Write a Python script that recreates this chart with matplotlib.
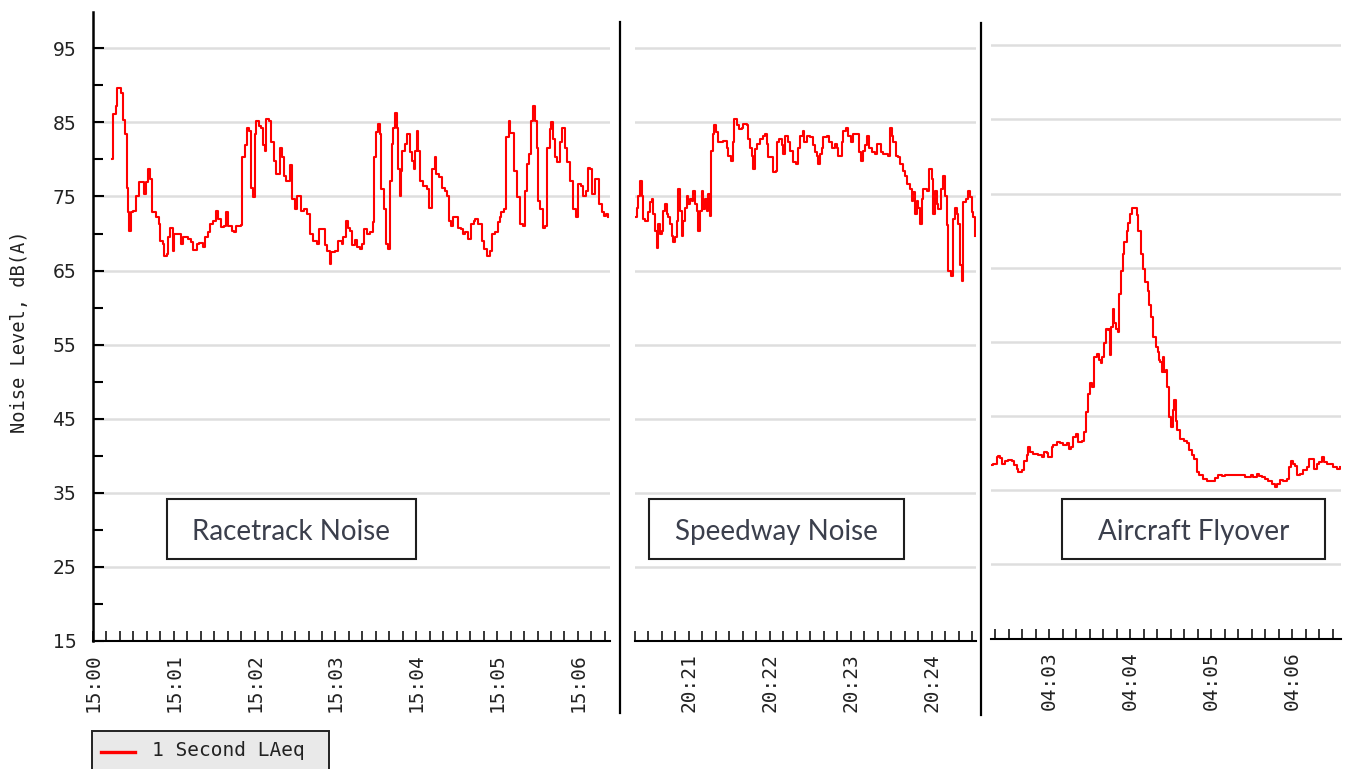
import matplotlib
matplotlib.use('Agg')
import matplotlib.pyplot as plt
from matplotlib.patches import Rectangle
from matplotlib.lines import Line2D
from matplotlib.ticker import MultipleLocator

W, H = 1350, 769

# Racetrack: seconds after 15:00:00, 1 second LAeq in dB(A)
race_sec = [14, 15, 17, 18, 20.5, 22, 23.5, 25, 26, 27,
            28.5, 30, 32, 34.5, 38, 39.5, 41, 42, 44, 47,
            49, 50, 52, 53, 55, 56, 57.5, 59.5, 60.5, 63,
            65, 67, 70.5, 72.5, 74, 77, 79, 82, 83, 85.5,
            87, 89, 91.5, 93, 95, 97.5, 99, 100, 103, 105,
            106.5, 109, 110, 110.5, 112.5, 114, 116, 117, 118.5, 120,
            121, 123, 125, 126.5, 128, 128.7, 131, 132.5, 134, 135.5,
            137.5, 138.5, 140.5, 142, 143.5, 146, 148, 150, 151.5, 153.5,
            154.5, 157, 158.5, 161, 163.5, 166, 168, 171, 172, 173.5,
            176, 177, 179.5, 182, 184.5, 185.5, 187.5, 189.5, 191, 192,
            194.5, 196, 198, 199.5, 201, 203.5, 205.5, 207.5, 208.5, 210,
            211.5, 213, 214, 216, 217.5, 219.3, 220.5, 221.7, 223, 224,
            225.5, 226.5, 228, 229, 229.5, 231.5, 233, 235, 236.5, 238,
            239, 240.3, 241.5, 242.8, 245, 247.7, 249.5, 251.5, 254, 255,
            257, 259, 261, 262.5, 264, 265.5, 267.5, 270, 271, 273.5,
            275, 276, 278.5, 280.5, 282.5, 283.5, 285.5, 287.5, 288.5, 290,
            292.5, 295, 296.5, 298.5, 301, 302, 303, 305, 306.5, 308.5,
            309.5, 311.5, 312.5, 314.5, 317, 319, 320.5, 322, 324, 325.5,
            327, 328, 329.5, 330.5, 332, 334, 335.5, 337, 339, 340,
            341.5, 343, 344.5, 346.5, 348.5, 350.5, 352, 354, 356, 358.5,
            360, 362.5, 364, 366, 367.5, 369, 370.5, 372.5, 374.5, 376,
            377.5, 379.5, 381, 382.5]
race_db = [80.1, 86.1, 87.2, 89.7, 89.0, 85.3, 83.4, 76.2, 72.9, 70.4,
           72.9, 73.1, 75.1, 76.9, 75.3, 77.0, 78.7, 77.4, 72.9, 72.2,
           71.3, 69.0, 68.6, 67.0, 67.2, 69.5, 70.8, 67.7, 69.9, 69.9,
           68.6, 69.5, 69.3, 68.8, 67.8, 68.6, 68.7, 68.2, 69.5, 70.2,
           71.3, 71.7, 73.1, 72.0, 70.9, 71.0, 72.9, 71.0, 70.4, 70.2,
           71.0, 71.0, 71.2, 80.3, 81.9, 84.3, 83.9, 76.2, 74.9, 83.4,
           85.2, 84.5, 84.3, 81.9, 81.2, 85.4, 85.2, 82.3, 79.8, 78.0,
           78.0, 81.6, 80.3, 77.8, 77.1, 79.2, 74.7, 73.3, 75.1, 75.1,
           73.1, 73.3, 72.6, 69.9, 69.0, 68.6, 70.6, 70.6, 68.4, 67.7,
           65.9, 67.5, 67.7, 69.0, 68.6, 69.5, 71.7, 70.8, 70.4, 68.4,
           69.1, 68.2, 67.9, 68.6, 70.6, 69.9, 70.2, 71.5, 80.3, 83.7,
           84.8, 83.4, 76.0, 73.3, 68.6, 67.9, 77.1, 82.1, 84.3, 86.3,
           84.3, 78.7, 75.1, 78.5, 81.2, 82.1, 83.4, 81.0, 79.8, 78.7,
           81.2, 83.9, 81.2, 77.1, 76.4, 76.0, 73.5, 78.7, 80.3, 78.0,
           77.6, 76.2, 75.8, 75.1, 71.7, 71.0, 72.2, 72.2, 70.8, 70.6,
           69.9, 70.2, 69.3, 71.3, 71.7, 72.0, 71.3, 71.3, 69.0, 67.9,
           67.0, 67.6, 69.9, 70.2, 71.5, 72.2, 72.9, 73.3, 83.0, 85.2,
           83.6, 83.6, 78.5, 74.9, 71.3, 71.0, 75.8, 79.4, 80.7, 85.2,
           87.2, 85.2, 81.6, 74.4, 73.3, 70.8, 71.0, 81.6, 84.1, 85.0,
           82.8, 80.3, 79.6, 82.3, 84.3, 81.6, 79.6, 77.1, 73.3, 72.2,
           76.7, 76.4, 75.1, 75.8, 78.9, 78.7, 75.3, 77.4, 77.4, 74.0,
           72.9, 72.4, 72.6, 72.2]
race_ticks = [0, 60, 120, 180, 240, 300, 360]
race_labels = ['15:00', '15:01', '15:02', '15:03', '15:04', '15:05', '15:06']

# Speedway: seconds after 20:20:00
speed_sec = [20.0, 21.2, 22.5, 23.7, 24.9, 26.2, 27.4, 29.9, 31.1, 32.3,
             33.6, 34.8, 36.0, 37.3, 38.5, 39.8, 41.0, 42.2, 43.5, 44.7,
             45.9, 47.2, 48.4, 49.6, 50.9, 52.1, 53.3, 54.6, 55.8, 57.0,
             58.3, 59.5, 60.7, 62.0, 63.2, 64.4, 65.7, 66.9, 68.1, 69.4,
             70.6, 71.8, 73.1, 74.3, 75.6, 76.0, 77.5, 78.5, 80.0, 81.2,
             83.0, 85.4, 87.9, 89.1, 90.9, 92.8, 93.6, 95.3, 97.3, 99.0,
             100.2, 102.7, 103.9, 105.2, 106.4, 107.2, 108.9, 110.1, 112.6, 114.6,
             116.3, 117.5, 118.8, 121.2, 122.0, 124.4, 124.9, 126.9, 128.6, 129.9,
             131.1, 133.6, 134.8, 136.8, 139.3, 141.0, 142.2, 144.2, 145.2, 147.2,
             149.6, 151.6, 153.3, 154.6, 155.8, 157.0, 158.3, 159.5, 162.0, 163.9,
             165.7, 168.1, 169.4, 170.6, 173.1, 174.3, 176.3, 178.0, 179.7, 181.7,
             184.2, 186.2, 187.4, 189.1, 190.4, 192.1, 193.6, 195.3, 197.8, 199.5,
             201.0, 202.0, 203.9, 207.6, 208.9, 210.1, 211.3, 213.1, 215.1, 216.3,
             218.3, 220.0, 221.2, 223.7, 224.9, 226.2, 227.4, 228.6, 229.9, 231.1,
             232.3, 233.6, 236.0, 237.8, 239.7, 241.0, 242.2, 243.5, 244.7, 246.4,
             248.4, 249.6, 250.9, 252.1, 253.8, 255.3, 257.0, 258.3, 259.5, 260.7,
             262.0, 263.2, 265.2, 266.4, 268.1, 269.4, 270.6, 271.8]
speed_db = [72.2, 73.5, 75.1, 77.1, 75.1, 72.0, 71.7, 72.9, 74.2, 74.7,
            72.6, 70.4, 68.1, 71.3, 69.9, 70.4, 73.1, 74.0, 72.6, 72.2,
            71.3, 69.7, 68.8, 69.5, 71.7, 76.0, 73.1, 69.7, 71.7, 73.5,
            75.1, 74.0, 74.7, 74.4, 75.8, 74.0, 73.1, 70.4, 73.1, 75.8,
            73.3, 74.7, 73.1, 75.3, 72.4, 81.2, 83.4, 84.6, 83.7, 82.3,
            82.3, 82.5, 81.6, 80.5, 79.8, 82.3, 85.4, 84.6, 84.1, 84.3,
            84.8, 84.6, 82.8, 81.6, 80.5, 78.7, 81.4, 82.1, 82.8, 83.2,
            83.4, 82.1, 80.3, 80.3, 78.3, 78.5, 82.3, 82.8, 81.9, 80.7,
            83.2, 82.3, 81.2, 79.6, 79.4, 81.6, 83.2, 83.9, 82.3, 83.2,
            83.0, 81.9, 81.0, 80.5, 79.4, 80.7, 81.6, 83.0, 83.2, 82.3,
            81.6, 82.1, 81.6, 80.5, 82.3, 83.9, 84.3, 83.2, 82.3, 83.4,
            83.4, 81.0, 79.8, 81.2, 81.9, 83.2, 81.6, 81.0, 80.7, 82.1,
            82.1, 81.0, 80.7, 80.5, 84.3, 83.2, 82.3, 80.5, 80.3, 79.4,
            78.5, 77.8, 76.7, 76.0, 74.4, 75.6, 72.6, 74.4, 73.5, 71.3,
            74.7, 76.0, 75.8, 78.7, 77.4, 72.6, 75.8, 74.0, 73.3, 76.0,
            77.8, 75.1, 71.1, 65.0, 64.3, 72.0, 73.5, 72.6, 71.3, 65.7,
            63.6, 74.2, 74.7, 75.8, 74.9, 72.9, 72.2, 69.7]
speed_ticks = [60, 120, 180, 240]
speed_labels = ['20:21', '20:22', '20:23', '20:24']

# Aircraft flyover: seconds after 04:02:00
air_sec = [16.8, 18.5, 21.0, 22.2, 23.5, 25.2, 27.2, 29.7, 32.1, 34.1,
           35.8, 37.1, 39.5, 41.5, 43.2, 44.5, 45.7, 48.2, 51.9, 54.3,
           56.3, 58.0, 59.3, 61.7, 63.0, 65.5, 67.9, 70.4, 72.9, 74.6,
           76.1, 77.8, 79.5, 81.5, 84.0, 85.5, 87.2, 88.9, 90.1, 91.9,
           93.4, 95.1, 96.8, 98.3, 99.3, 100.8, 101.7, 103.2, 104.5, 105.2,
           105.7, 106.9, 108.2, 109.4, 110.6, 111.6, 113.1, 114.3, 115.6, 117.3,
           118.5, 119.8, 121.0, 123.5, 124.7, 125.9, 127.9, 129.6, 130.9, 132.9,
           134.1, 135.3, 137.0, 138.8, 140.3, 141.3,
           142.0, 143.2, 144.5, 145.0, 146.4, 147.4, 148.9, 150.1, 151.4, 152.4,
           153.6, 154.8, 156.8, 159.8, 161.8, 163.7, 165.5, 167.4, 169.2, 171.1,
           173.6, 176.6, 180.3, 182.7, 185.2, 187.7, 190.1, 192.6, 195.1, 197.6,
           201.3, 205.0, 207.4, 209.2, 211.1, 213.6, 215.3, 217.3, 219.8, 222.2,
           224.7, 227.2, 228.9, 230.9, 233.4, 235.8, 237.3, 238.8, 240.3, 242.0,
           243.7, 245.7, 248.2, 250.6, 252.6, 254.3, 256.1, 258.0, 260.0, 261.7,
           263.5, 265.5, 267.9, 270.4, 272.9, 275.3]
air_db = [38.4, 38.6, 39.5, 39.6, 39.3, 38.6, 38.9, 39.1, 39.0, 38.4,
          37.9, 37.5, 37.7, 39.0, 39.7, 40.8, 40.2, 39.9, 39.7, 39.5,
          40.2, 40.0, 39.5, 40.8, 41.1, 41.5, 41.4, 41.1, 41.3, 40.6,
          40.8, 42.2, 42.6, 41.5, 41.7, 42.9, 45.6, 48.0, 49.4, 48.9,
          53.0, 53.4, 52.5, 52.1, 53.0, 54.8, 56.8, 56.6, 56.8, 53.2,
          57.0, 59.5, 57.5, 56.8, 56.4, 61.5, 64.5, 66.9, 68.5, 69.9,
          71.0, 72.3, 73.0, 73.0, 72.1, 69.9, 66.9, 64.9, 63.1, 61.8,
          60.0, 58.4, 55.7, 54.3, 53.7, 52.5,
          52.3, 51.0, 53.0, 51.0, 51.2, 48.9, 44.9, 43.5, 45.8, 47.1,
          44.4, 43.1, 41.9, 41.7, 41.3, 40.4, 39.7, 39.2, 37.4, 37.0,
          36.5, 36.2, 36.2, 36.7, 37.0, 36.9, 37.1, 37.1, 37.0, 37.0,
          37.0, 36.8, 36.8, 37.1, 36.8, 37.2, 36.9, 36.8, 36.5, 36.2,
          35.9, 35.4, 35.9, 36.4, 36.3, 36.5, 38.1, 39.0, 38.6, 38.3,
          37.0, 37.2, 37.7, 38.1, 39.2, 39.2, 37.9, 38.6, 38.8, 39.5,
          38.8, 38.6, 38.6, 38.1, 37.9, 38.1]
air_ticks = [60, 120, 180, 240]
air_labels = ['04:03', '04:04', '04:05', '04:06']

y_major = [15, 25, 35, 45, 55, 65, 75, 85, 95]
captions = ['Racetrack Noise', 'Speedway Noise', 'Aircraft Flyover']
legend_label = '1 Second LAeq'


def fig_rect(x0, y0, x1, y1):
    # pixel box, origin top-left -> figure fraction [l, b, w, h]
    return [x0 / W, 1 - y1 / H, (x1 - x0) / W, (y1 - y0) / H]


fig = plt.figure(figsize=(W / 100, H / 100), dpi=100)


def make_panel(box, t, db, xlim, ticks, labels, first=False):
    ax = fig.add_axes(fig_rect(*box))
    ax.step(t, db, where='post', color='#ff0000', lw=1.5, zorder=3)
    ax.set_xlim(xlim)
    ax.set_ylim(15, 99.9)
    for s in ['top', 'right', 'left']:
        ax.spines[s].set_visible(False)
    ax.spines['bottom'].set_linewidth(1.5)
    ax.set_xticks(ticks)
    ax.set_xticklabels(labels, rotation=90, fontfamily='DejaVu Sans Mono',
                       fontsize=14, color='#222222')
    ax.xaxis.set_minor_locator(MultipleLocator(10))
    ax.tick_params(axis='x', which='both', direction='in', length=7,
                   width=1.1, pad=9)
    ax.set_yticks(y_major)
    ax.grid(axis='y', color='#dedede', lw=1.8, zorder=0)
    if first:
        ax.spines['left'].set_visible(True)
        ax.spines['left'].set_linewidth(1.8)
        ax.yaxis.set_minor_locator(MultipleLocator(5))
        ax.tick_params(axis='y', which='major', direction='in', length=8,
                       width=1.5, pad=12, labelsize=13.5, labelcolor='#222222')
        ax.tick_params(axis='y', which='minor', direction='in', length=7,
                       width=1.5)
    else:
        ax.tick_params(axis='y', which='both', left=False, labelleft=False)
    return ax


ax1 = make_panel((93, 12, 610, 641), race_sec, race_db, (0, 383.8),
                 race_ticks, race_labels, first=True)
ax2 = make_panel((635, 12, 976, 641), speed_sec, speed_db, (20, 272.6),
                 speed_ticks, speed_labels)
ax3 = make_panel((991, 9, 1341, 638.5), air_sec, air_db, (16.8, 276),
                 air_ticks, air_labels)

fig.text(20 / W, 1 - 332 / H, 'Noise Level, dB(A)', rotation=90,
         ha='center', va='center', fontfamily='DejaVu Sans Mono',
         fontsize=13.5, color='#222222')

# separators between the three screenshots
for x, y0, y1 in [(620, 22, 713), (981, 23, 715)]:
    fig.add_artist(Line2D([x / W, x / W], [1 - y0 / H, 1 - y1 / H],
                          color='black', lw=1.6))

# caption boxes
for (x0, y0, x1, y1), txt in zip([(167, 499, 416, 559), (649, 499, 904, 559),
                                  (1062, 499, 1325, 559)], captions):
    l, b, w, h = fig_rect(x0, y0, x1, y1)
    fig.add_artist(Rectangle((l, b), w, h, transform=fig.transFigure,
                             facecolor='white', edgecolor='#1e1e1e', lw=1.5,
                             zorder=5))
    fig.text(l + w / 2, b + h / 2 - 3 / H, txt, ha='center', va='center',
             fontfamily='Lato', fontsize=20, color='#3b3f4c', zorder=6)

# legend box, cut off at the bottom edge
l, b, w, h = fig_rect(92, 731, 329, 780)
fig.add_artist(Rectangle((l, b), w, h, transform=fig.transFigure,
                         facecolor='#e9e9e9', edgecolor='#222222', lw=1.4))
fig.add_artist(Line2D([101 / W, 135 / W], [1 - 752 / H, 1 - 752 / H],
                      color='#ff0000', lw=2.4))
fig.text(152 / W, 1 - 751 / H, legend_label, ha='left', va='center',
         fontfamily='DejaVu Sans Mono', fontsize=14, color='#222222')

fig.savefig('out.png', dpi=100, facecolor='white')
